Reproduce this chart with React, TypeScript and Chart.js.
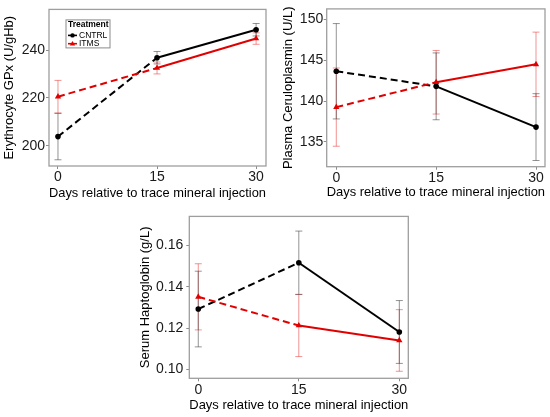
import { useEffect, useRef } from "react"
import { Chart, registerables, type Plugin } from "chart.js"

Chart.register(...registerables)

const FONT = "'Liberation Sans', Arial, Helvetica, sans-serif"

const days = [0, 15, 30]
const dayTicks = [0, 15, 30]
const groups = ["CNTRL", "ITMS"]
const xLabel = "Days relative to trace mineral injection"

// Erythrocyte GPx (U/gHb)
const gpxCntrl = [203.8, 236.8, 248.5]
const gpxCntrlErr = [9.7, 2.6, 2.6]
const gpxItms = [220.5, 232.5, 244.8]
const gpxItmsErr = [6.8, 2.5, 2.4]
const gpxTicks = [200, 220, 240]

// Plasma Ceruloplasmin (U/L)
const cerCntrl = [143.65, 141.8, 136.8]
const cerCntrlErr = [5.85, 4.1, 4.1]
const cerItms = [139.25, 142.3, 144.5]
const cerItmsErr = [4.8, 3.9, 3.95]
const cerTicks = [135, 140, 145, 150]

// Serum Haptoglobin (g/L)
const hapCntrl = [0.1292, 0.1516, 0.1181]
const hapCntrlErr = [0.0183, 0.0153, 0.0152]
const hapItms = [0.1351, 0.1212, 0.114]
const hapItmsErr = [0.016, 0.015, 0.0149]
const hapTicks = [0.1, 0.12, 0.14, 0.16]

const BLACK = "#000000"
const RED = "#e00000"

// error bars drawn under the lines
const errorBarPlugin: Plugin = {
  id: "errorBars",
  beforeDatasetsDraw(chart) {
    const { ctx } = chart
    const xs = chart.scales.x
    const ys = chart.scales.y
    chart.data.datasets.forEach((ds: any) => {
      if (!ds.errors) return
      ctx.save()
      ctx.strokeStyle = ds.errorColor
      ctx.lineWidth = 1
      ds.data.forEach((pt: any, j: number) => {
        const x = xs.getPixelForValue(pt.x)
        const y1 = ys.getPixelForValue(pt.y + ds.errors[j])
        const y2 = ys.getPixelForValue(pt.y - ds.errors[j])
        ctx.beginPath()
        ctx.moveTo(x, y1)
        ctx.lineTo(x, y2)
        ctx.moveTo(x - 3.5, y1)
        ctx.lineTo(x + 3.5, y1)
        ctx.moveTo(x - 3.5, y2)
        ctx.lineTo(x + 3.5, y2)
        ctx.stroke()
      })
      ctx.restore()
    })
  },
}

const boxPlugin: Plugin = {
  id: "panelBox",
  afterDatasetsDraw(chart) {
    const { ctx, chartArea } = chart
    ctx.save()
    ctx.strokeStyle = "#9e9e9e"
    ctx.lineWidth = 1.3
    ctx.strokeRect(chartArea.left, chartArea.top, chartArea.right - chartArea.left, chartArea.bottom - chartArea.top)
    ctx.restore()
  },
}

const legendPlugin: Plugin = {
  id: "treatmentLegend",
  afterDraw(chart) {
    const { ctx, chartArea } = chart
    const x0 = chartArea.left + 17
    const y0 = chartArea.top + 10.5
    ctx.save()
    ctx.fillStyle = "#fff"
    ctx.fillRect(x0, y0, 44, 28)
    ctx.strokeStyle = "#8a8a8a"
    ctx.lineWidth = 1
    ctx.strokeRect(x0, y0, 44, 28)
    ctx.fillStyle = "#000"
    ctx.textBaseline = "middle"
    ctx.font = `bold 8.5px ${FONT}`
    ctx.fillText("Treatment", x0 + 2, y0 + 5)
    ctx.font = `8.5px ${FONT}`
    groups.forEach((g, i) => {
      const y = y0 + 15.5 + i * 8.3
      const color = i === 0 ? BLACK : RED
      ctx.strokeStyle = color
      ctx.fillStyle = color
      ctx.lineWidth = 1.6
      ctx.beginPath()
      ctx.moveTo(x0 + 2, y)
      ctx.lineTo(x0 + 11, y)
      ctx.stroke()
      ctx.beginPath()
      if (i === 0) {
        ctx.arc(x0 + 6.5, y, 2.2, 0, Math.PI * 2)
      } else {
        ctx.moveTo(x0 + 6.5, y - 2.8)
        ctx.lineTo(x0 + 9.2, y + 1.8)
        ctx.lineTo(x0 + 3.8, y + 1.8)
        ctx.closePath()
      }
      ctx.fill()
      ctx.fillStyle = "#000"
      ctx.fillText(g, x0 + 13, y)
    })
    ctx.restore()
  },
}

interface PanelProps {
  left: number
  top: number
  width: number
  height: number
  padTop: number
  padRight: number
  yWidth: number
  xHeight: number
  xTitlePad: number
  yTitlePad: number
  yTickPad: number
  xMin: number
  xMax: number
  yMin: number
  yMax: number
  yTicks: number[]
  yLabel: string
  digits: number
  cntrl: number[]
  cntrlErr: number[]
  itms: number[]
  itmsErr: number[]
  legend?: boolean
}

function Panel(p: PanelProps) {
  const canvasRef = useRef<HTMLCanvasElement>(null)

  useEffect(() => {
    if (!canvasRef.current) return
    const tickFont = { family: FONT, size: 14 }
    const titleFont = { family: FONT, size: 13 }
    const dash = (ctx: any) => (ctx.p0DataIndex === 0 ? [7, 4] : undefined)

    const chart = new Chart(canvasRef.current, {
      type: "line",
      data: {
        datasets: [
          {
            label: groups[1],
            data: p.itms.map((v, i) => ({ x: days[i], y: v })),
            errors: p.itmsErr,
            errorColor: "rgba(230,40,40,0.5)",
            borderColor: RED,
            backgroundColor: RED,
            borderWidth: 2,
            pointStyle: "triangle",
            pointRadius: 3.6,
            pointBorderWidth: 0,
            segment: { borderDash: dash },
            order: 0,
          } as any,
          {
            label: groups[0],
            data: p.cntrl.map((v, i) => ({ x: days[i], y: v })),
            errors: p.cntrlErr,
            errorColor: "rgba(60,60,60,0.55)",
            borderColor: BLACK,
            backgroundColor: BLACK,
            borderWidth: 2,
            pointStyle: "circle",
            pointRadius: 2.8,
            pointBorderWidth: 0,
            segment: { borderDash: dash },
            order: 1,
          } as any,
        ],
      },
      options: {
        animation: false,
        responsive: false,
        events: [],
        layout: {
          autoPadding: false,
          padding: { top: p.padTop, right: p.padRight, left: 0, bottom: 0 },
        },
        plugins: {
          legend: { display: false },
          tooltip: { enabled: false },
        },
        scales: {
          x: {
            type: "linear",
            min: p.xMin,
            max: p.xMax,
            afterBuildTicks: (s: any) => {
              s.ticks = dayTicks.map((v) => ({ value: v }))
            },
            afterFit: (s: any) => {
              s.height = p.xHeight
            },
            grid: { drawOnChartArea: false, drawTicks: true, tickLength: 3, color: "#8c8c8c" },
            border: { display: false },
            ticks: { font: tickFont, color: "#1a1a1a", padding: 0, maxRotation: 0, autoSkip: false },
            title: {
              display: true,
              text: xLabel,
              font: titleFont,
              color: "#000",
              padding: { top: 0, bottom: p.xTitlePad },
            },
          },
          y: {
            type: "linear",
            min: p.yMin,
            max: p.yMax,
            afterBuildTicks: (s: any) => {
              s.ticks = p.yTicks.map((v) => ({ value: v }))
            },
            afterFit: (s: any) => {
              s.width = p.yWidth
            },
            grid: { drawOnChartArea: false, drawTicks: true, tickLength: 3, color: "#8c8c8c" },
            border: { display: false },
            ticks: {
              font: tickFont,
              color: "#1a1a1a",
              padding: p.yTickPad,
              callback: (v: any) => Number(v).toFixed(p.digits),
            },
            title: {
              display: true,
              text: p.yLabel,
              font: titleFont,
              color: "#000",
              padding: { top: p.yTitlePad, bottom: 0 },
            },
          },
        },
      },
      plugins: p.legend ? [errorBarPlugin, boxPlugin, legendPlugin] : [errorBarPlugin, boxPlugin],
    })

    return () => {
      chart.destroy()
    }
  }, [])

  return (
    <canvas
      ref={canvasRef}
      width={p.width}
      height={p.height}
      style={{ position: "absolute", left: p.left, top: p.top, width: p.width, height: p.height }}
    />
  )
}

export default function App() {
  return (
    <div style={{ position: "absolute", left: 0, top: 0, width: 550, height: 417, background: "#fff" }}>
      <Panel
        left={0}
        top={0}
        width={275}
        height={210}
        padTop={4}
        padRight={9}
        yWidth={49}
        xHeight={44}
        xTitlePad={9.2}
        yTitlePad={1.7}
        yTickPad={1}
        xMin={-1.36}
        xMax={31.5}
        yMin={191.5}
        yMax={257}
        yTicks={gpxTicks}
        yLabel="Erythrocyte GPx (U/gHb)"
        digits={0}
        cntrl={gpxCntrl}
        cntrlErr={gpxCntrlErr}
        itms={gpxItms}
        itmsErr={gpxItmsErr}
        legend
      />
      <Panel
        left={275}
        top={0}
        width={275}
        height={210}
        padTop={4}
        padRight={5}
        yWidth={51.7}
        xHeight={43.3}
        xTitlePad={9.5}
        yTitlePad={5.5}
        yTickPad={0.5}
        xMin={-1.44}
        xMax={31.35}
        yMin={131.94}
        yMax={151.3}
        yTicks={cerTicks}
        yLabel="Plasma Ceruloplasmin (U/L)"
        digits={0}
        cntrl={cerCntrl}
        cntrlErr={cerCntrlErr}
        itms={cerItms}
        itmsErr={cerItmsErr}
      />
      <Panel
        left={130}
        top={205}
        width={290}
        height={212}
        padTop={6.7}
        padRight={11.7}
        yWidth={59.3}
        xHeight={38.7}
        xTitlePad={4.2}
        yTitlePad={7.2}
        yTickPad={3}
        xMin={-1.34}
        xMax={31.34}
        yMin={0.0957}
        yMax={0.174}
        yTicks={hapTicks}
        yLabel="Serum Haptoglobin (g/L)"
        digits={2}
        cntrl={hapCntrl}
        cntrlErr={hapCntrlErr}
        itms={hapItms}
        itmsErr={hapItmsErr}
      />
    </div>
  )
}
